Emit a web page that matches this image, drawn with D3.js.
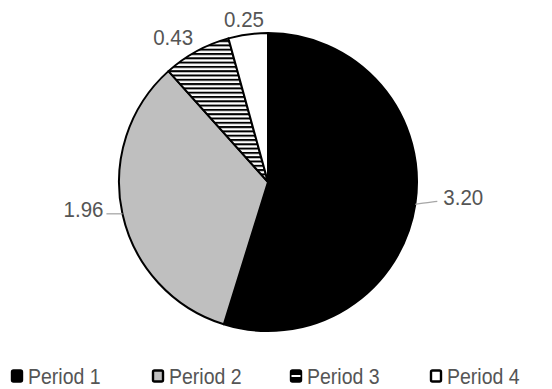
<!DOCTYPE html>
<html>
<head>
<meta charset="utf-8">
<script src="https://cdn.jsdelivr.net/npm/d3@7/dist/d3.min.js"></script>
<style>
  html, body { margin: 0; padding: 0; background: #fff; }
  svg { display: block; }
  text { font-family: "Liberation Sans", Arial, sans-serif; fill: #555555; }
</style>
</head>
<body>
<svg id="chart" width="552" height="389"></svg>
<script>
// Chart data
const categories = ["Period 1", "Period 2", "Period 3", "Period 4"];
const values = [3.20, 1.96, 0.43, 0.25];
const valueLabels = ["3.20", "1.96", "0.43", "0.25"];
const fills = ["#000000", "#bfbfbf", "url(#hstripe)", "#ffffff"];

const W = 552, H = 389;
const cx = 268, cy = 182, R = 149;

const svg = d3.select("#chart");

// Horizontal hatch for the third slice
const defs = svg.append("defs");
const pat = defs.append("pattern")
  .attr("id", "hstripe")
  .attr("patternUnits", "userSpaceOnUse")
  .attr("width", 8).attr("height", 4.3);
pat.append("rect").attr("width", 8).attr("height", 4.3).attr("fill", "#fff");
pat.append("rect").attr("y", 0).attr("width", 8).attr("height", 2).attr("fill", "#000");

const pie = d3.pie().sort(null).value(d => d.v);
const data = pie(categories.map((c, i) => ({ c, v: values[i], i })));

const arc = d3.arc().innerRadius(0).outerRadius(R);

const g = svg.append("g").attr("transform", `translate(${cx},${cy})`);

g.selectAll("path.slice")
  .data(data)
  .join("path")
  .attr("class", "slice")
  .attr("d", arc)
  .attr("fill", d => fills[d.data.i])
  .attr("stroke", "#000")
  .attr("stroke-width", 2)
  .attr("stroke-linejoin", "round");

// Data labels: offset from the slice's mid-point on the rim
function polar(a, r) { return [Math.sin(a) * r, -Math.cos(a) * r]; }
const labelCfg = [
  { anchor: "start",  dx: 28,   dy: -7,  leader: [[6, -1], [22, -3]] },
  { anchor: "end",    dx: -19,  dy: -5,  leader: [[-8, 0], [-16, 0]] },
  { anchor: "end",    dx: -3.5, dy: -14, leader: null },
  { anchor: "middle", dx: -4,   dy: -15, leader: null }
];

data.forEach(d => {
  const i = d.data.i;
  const cfg = labelCfg[i];
  const mid = (d.startAngle + d.endAngle) / 2;
  const [x0, y0] = polar(mid, R);
  if (cfg.leader) {
    const pts = [[x0, y0]].concat(cfg.leader.map(p => [x0 + p[0], y0 + p[1]]));
    g.append("path")
      .attr("d", d3.line().curve(d3.curveBasis)(pts))
      .attr("fill", "none")
      .attr("stroke", "#a6a6a6")
      .attr("stroke-width", 1.3);
  }
  g.append("text")
    .attr("transform", `translate(${x0 + cfg.dx},${y0 + cfg.dy}) scale(1,1.08)`)
    .attr("dy", "0.35em")
    .attr("text-anchor", cfg.anchor)
    .style("font-size", "20.5px")
    .text(valueLabels[i]);
});

// Legend
const legendX = [11, 152, 290, 430];
const legendY = 376;
const lg = svg.append("g");
categories.forEach((c, i) => {
  const item = lg.append("g").attr("transform", `translate(${legendX[i]},${legendY})`);
  item.append("rect")
    .attr("x", 1).attr("y", -5.5)
    .attr("width", 10).attr("height", 11)
    .attr("rx", 1.5)
    .attr("fill", i === 2 ? "#000" : fills[i])
    .attr("stroke", "#000").attr("stroke-width", 2.4);
  if (i === 2) {
    // hatch swatch: one white line across the dark box
    item.append("rect").attr("x", 1.5).attr("y", -1).attr("width", 9).attr("height", 2).attr("fill", "#fff");
  }
  item.append("text")
    .attr("transform", `translate(17,0) scale(1,1.12)`)
    .attr("dy", "0.36em")
    .style("font-size", "19.5px")
    .text(c);
});
</script>
</body>
</html>
